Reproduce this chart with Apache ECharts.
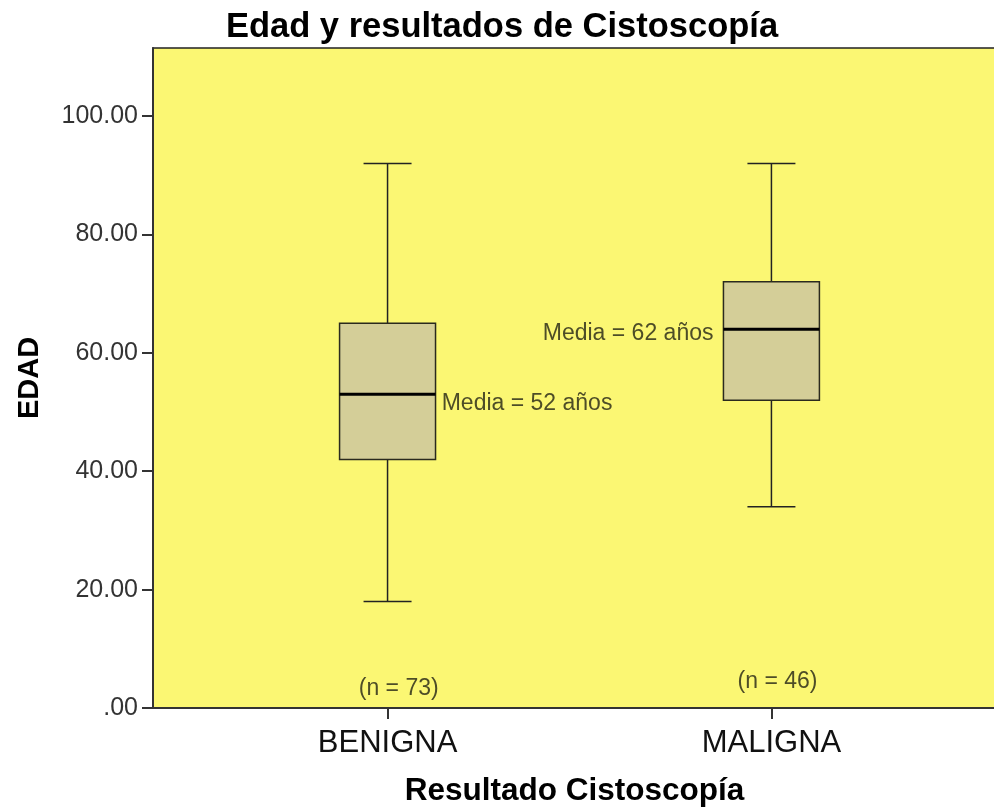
<!DOCTYPE html>
<html>
<head>
<meta charset="utf-8">
<script src="https://cdn.jsdelivr.net/npm/echarts@6/dist/echarts.min.js"></script>
<style>
  html, body { margin: 0; padding: 0; background: #fff; }
  #chart { width: 994px; height: 808px; }
</style>
</head>
<body>
<div id="chart"></div>
<script>
// box stats per group: min, Q1, median, Q3, max
const categories = ['BENIGNA', 'MALIGNA']
const whiskerLow = [18, 34]
const q1 = [42, 52]
const median = [53, 64]
const q3 = [65, 72]
const whiskerHigh = [92, 92]
const yTicks = [0, 20, 40, 60, 80, 100]

// annotations written into the plot
const meanText = ['Media = 52 años', 'Media = 62 años']
const meanAt = [[0.141, 51.5], [0.849, 63.2]]
const countText = ['(n = 73)', '(n = 46)']
const countAt = [[0.029, 3.3], [1.016, 4.5]]

const boxRows = categories.map((c, i) => [i, whiskerLow[i], q1[i], median[i], q3[i], whiskerHigh[i]])

const FONT = 'Arial, "Liberation Sans", sans-serif'
const INK = '#222'

const renderBox = (params, api) => {
  const x = api.value(0)
  const unit = api.size([1, 0])[0]
  const half = unit * 0.125
  const cap = half / 2
  const pLow = api.coord([x, api.value(1)])
  const pQ1 = api.coord([x, api.value(2)])
  const pMed = api.coord([x, api.value(3)])
  const pQ3 = api.coord([x, api.value(4)])
  const pHigh = api.coord([x, api.value(5)])
  const line = { stroke: INK, lineWidth: 1.5 }
  const cx = pMed[0]
  return {
    type: 'group',
    children: [
      { type: 'line', shape: { x1: cx, y1: pHigh[1], x2: cx, y2: pQ3[1] }, style: line },
      { type: 'line', shape: { x1: cx, y1: pQ1[1], x2: cx, y2: pLow[1] }, style: line },
      { type: 'line', shape: { x1: cx - cap, y1: pHigh[1], x2: cx + cap, y2: pHigh[1] }, style: line },
      { type: 'line', shape: { x1: cx - cap, y1: pLow[1], x2: cx + cap, y2: pLow[1] }, style: line },
      {
        type: 'rect',
        shape: { x: cx - half, y: pQ3[1], width: half * 2, height: pQ1[1] - pQ3[1] },
        style: { fill: '#d4ce98', stroke: '#2a2a1e', lineWidth: 1.5 }
      },
      { type: 'line', shape: { x1: cx - half, y1: pMed[1], x2: cx + half, y2: pMed[1] }, style: { stroke: '#000', lineWidth: 3 } }
    ]
  }
}

const annotation = (pos, text, align) => ({
  value: pos,
  label: {
    show: true,
    position: [0, 0],
    formatter: text,
    align,
    verticalAlign: 'middle',
    fontFamily: FONT,
    fontSize: 23,
    color: '#222214'
  }
})

const chart = echarts.init(document.getElementById('chart'), null, { renderer: 'canvas' })

chart.setOption({
  animation: false,
  backgroundColor: '#fff',
  title: {
    text: 'Edad y resultados de Cistoscopía',
    left: 497,
    top: 5,
    textAlign: 'center',
    textStyle: { fontFamily: FONT, fontSize: 34.5, fontWeight: 'bold', color: '#000' }
  },
  grid: {
    left: 153, right: -2, top: 48, bottom: 100,
    outerBoundsMode: 'none',
    containLabel: false,
    show: true,
    backgroundColor: '#fbf773',
    borderColor: '#222',
    borderWidth: 1.5
  },
  xAxis: {
    type: 'value',
    min: -0.611,
    max: 1.585,
    splitLine: { show: false },
    axisLine: { show: true, lineStyle: { color: '#333', width: 2 } },
    axisTick: { show: true, customValues: [0, 1], length: 11, lineStyle: { color: '#333', width: 2 } },
    axisLabel: {
      customValues: [0, 1],
      formatter: (v) => categories[Math.round(v)],
      margin: 20,
      fontFamily: FONT,
      fontSize: 31,
      color: '#111'
    },
    name: 'Resultado Cistoscopía',
    nameLocation: 'middle',
    nameGap: 67,
    nameTextStyle: { fontFamily: FONT, fontSize: 31.5, fontWeight: 'bold', color: '#000' }
  },
  yAxis: {
    type: 'value',
    min: 0,
    max: 111.5,
    splitLine: { show: false },
    axisLine: { show: true, onZero: false, lineStyle: { color: '#333', width: 2 } },
    axisTick: { show: true, customValues: yTicks, length: 11, lineStyle: { color: '#333', width: 2 } },
    axisLabel: {
      customValues: yTicks,
      formatter: (v) => (v === 0 ? '.00' : v.toFixed(2)),
      margin: 15,
      fontFamily: FONT,
      fontSize: 25,
      color: '#333'
    },
    name: 'EDAD',
    nameLocation: 'middle',
    nameRotate: 90,
    nameGap: 109,
    nameTextStyle: { fontFamily: FONT, fontSize: 29, fontWeight: 'bold', color: '#000' }
  },
  series: [
    {
      type: 'custom',
      renderItem: renderBox,
      encode: { x: 0, y: [1, 2, 3, 4, 5] },
      data: boxRows,
      z: 3
    },
    {
      type: 'scatter',
      symbolSize: 0,
      silent: true,
      z: 4,
      data: [
        annotation(meanAt[0], meanText[0], 'left'),
        annotation(meanAt[1], meanText[1], 'right'),
        annotation(countAt[0], countText[0], 'center'),
        annotation(countAt[1], countText[1], 'center')
      ]
    }
  ]
})
</script>
</body>
</html>
